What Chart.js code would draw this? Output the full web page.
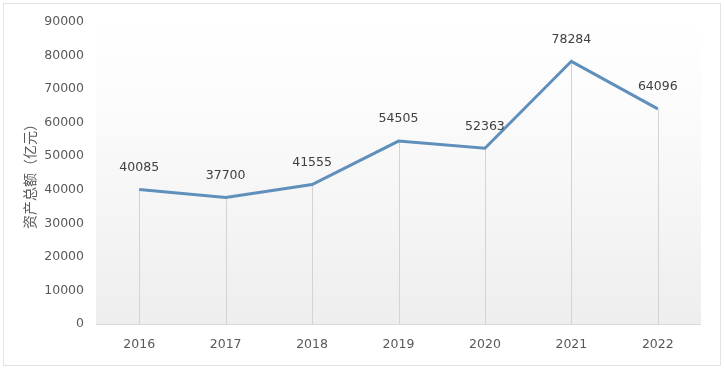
<!DOCTYPE html>
<html>
<head>
<meta charset="utf-8">
<script src="https://cdn.jsdelivr.net/npm/chart.js@4/dist/chart.umd.min.js"></script>
<style>
  html, body { margin: 0; padding: 0; background: #fff; }
  #wrap { width: 724px; height: 369px; position: relative; }
</style>
</head>
<body>
<div id="wrap"><canvas id="mycanvas" width="724" height="369"></canvas></div>
<script>
var years = ['2016', '2017', '2018', '2019', '2020', '2021', '2022'];
var totalAssets = [40085, 37700, 41555, 54505, 52363, 78284, 64096];
var yTicks = [0, 10000, 20000, 30000, 40000, 50000, 60000, 70000, 80000, 90000];
var yTitle = '资产总额（亿元）';

var numFont = "'DejaVu Sans', 'Noto Sans CJK SC', sans-serif";

// gradient background, drop lines and value labels
var decor = {
    id: 'decor',
    beforeDatasetsDraw: function(chart) {
        var ctx = chart.ctx, a = chart.chartArea;
        ctx.save();
        var g = ctx.createLinearGradient(0, a.top, 0, a.bottom);
        g.addColorStop(0, '#ffffff');
        g.addColorStop(0.3, '#fbfbfb');
        g.addColorStop(1, '#eeeeee');
        ctx.fillStyle = g;
        ctx.fillRect(a.left, a.top, a.right - a.left, a.bottom - a.top);

        // axis line
        ctx.strokeStyle = '#d9d9d9';
        ctx.lineWidth = 1;
        ctx.beginPath();
        ctx.moveTo(a.left, a.bottom + 0.5);
        ctx.lineTo(a.right, a.bottom + 0.5);
        ctx.stroke();

        var meta = chart.getDatasetMeta(0);
        ctx.strokeStyle = '#d3d3d3';
        meta.data.forEach(function(p) {
            var x = Math.round(p.x) + 0.5;
            ctx.beginPath();
            ctx.moveTo(x, p.y);
            ctx.lineTo(x, a.bottom);
            ctx.stroke();
        });
        ctx.restore();
    },
    afterDatasetsDraw: function(chart) {
        var ctx = chart.ctx;
        var meta = chart.getDatasetMeta(0);
        ctx.save();
        ctx.font = '12.5px ' + numFont;
        ctx.fillStyle = '#404040';
        ctx.textAlign = 'center';
        ctx.textBaseline = 'middle';
        meta.data.forEach(function(p, i) {
            ctx.fillText(String(totalAssets[i]), p.x, p.y - 22);
        });
        ctx.restore();
    },
    afterDraw: function(chart) {
        var ctx = chart.ctx;
        ctx.save();
        ctx.strokeStyle = '#e3e3e3';
        ctx.lineWidth = 1;
        ctx.strokeRect(3.5, 3.5, chart.width - 7, chart.height - 7);
        ctx.restore();
    }
};

var ctx = document.getElementById('mycanvas');

var lineGraph = new Chart(ctx, {
    type: 'line',
    data: {
        labels: years,
        datasets: [{
            label: yTitle,
            data: totalAssets,
            borderColor: '#5f8fbb',
            borderWidth: 3,
            pointRadius: 0,
            tension: 0,
            fill: false
        }]
    },
    plugins: [decor],
    options: {
        responsive: false,
        animation: false,
        layout: { padding: { left: 21, right: 23, top: 22, bottom: 0 } },
        plugins: {
            legend: { display: false },
            tooltip: { enabled: false }
        },
        scales: {
            x: {
                offset: true,
                grid: { display: false, drawTicks: false },
                border: { display: false },
                ticks: {
                    color: '#595959',
                    font: { family: numFont, size: 12.5 },
                    padding: 13,
                    maxRotation: 0
                },
                afterFit: function(scale) { scale.height = 45; }
            },
            y: {
                min: 0,
                max: 90000,
                grid: { display: false, drawTicks: false },
                border: { display: false },
                afterBuildTicks: function(scale) {
                    scale.ticks = yTicks.map(function(v) { return { value: v }; });
                },
                ticks: {
                    color: '#595959',
                    font: { family: numFont, size: 12.5 },
                    padding: 12,
                    callback: function(v) { return String(v); }
                },
                title: {
                    display: true,
                    text: yTitle,
                    color: '#595959',
                    font: { family: "'Noto Sans CJK SC', sans-serif", size: 14 },
                    padding: { top: 0, bottom: 0 }
                },
                afterFit: function(scale) { scale.width = 75; }
            }
        }
    }
});
</script>
</body>
</html>
